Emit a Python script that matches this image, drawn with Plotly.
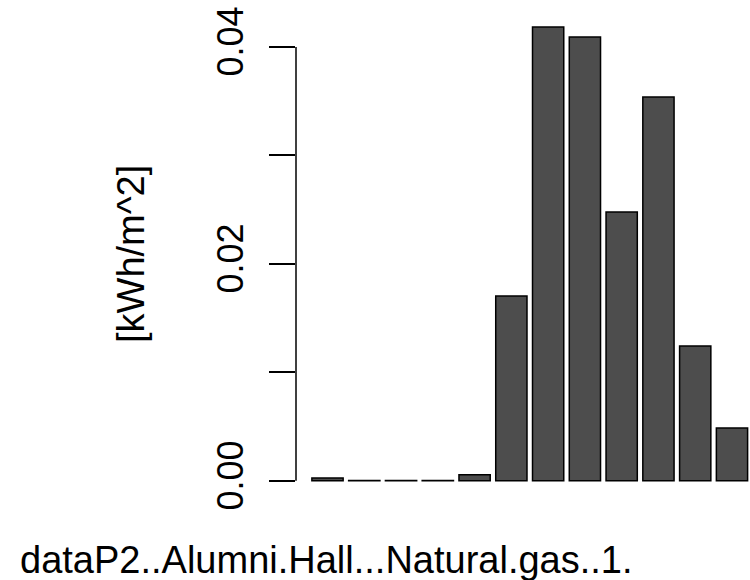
import plotly.graph_objects as go

categories = ["1", "2", "3", "4", "5", "6", "7", "8", "9", "10", "11", "12"]
values = [0.00025, 0.00003, 0.00003, 0.00003, 0.00055, 0.01705,
          0.04184, 0.04092, 0.02479, 0.03539, 0.01244, 0.00488]
ytick_vals = [0.00, 0.01, 0.02, 0.03, 0.04]
ytick_text = ["0.00", "", "0.02", "", "0.04"]
y_title = "[kWh/m^2]"
x_title = "dataP2..Alumni.Hall...Natural.gas..1."

W, H = 750, 580
left, bottom = 296, 97
plot_h = H - bottom
plot_w = W - left

FONT = "Liberation Sans, Arial, sans-serif"

fig = go.Figure()
fig.add_trace(go.Bar(
    x=categories, y=values,
    marker=dict(color="#4d4d4d", line=dict(color="black", width=1.5)),
    showlegend=False,
))

fig.update_layout(
    width=W, height=H,
    margin=dict(l=left, r=0, t=0, b=bottom, pad=0),
    paper_bgcolor="white", plot_bgcolor="white",
    bargap=0.15,
    font=dict(family=FONT, color="black"),
    xaxis=dict(type="category", range=[-0.857, 11.49], showticklabels=False,
               ticks="", showgrid=False, zeroline=False, showline=False),
    yaxis=dict(range=[-0.0002, 0.04433], tickvals=ytick_vals, ticktext=ytick_text,
               ticks="outside", ticklen=26, tickwidth=1.5, tickcolor="black",
               tickangle=-90, tickfont=dict(size=36, family=FONT, color="black"),
               ticklabelstandoff=12,
               showgrid=False, zeroline=False, showline=False),
)

# y axis line spanning the tick range only
fig.add_shape(type="line", xref="paper", yref="y", x0=0, x1=0,
              y0=ytick_vals[0], y1=ytick_vals[-1],
              line=dict(color="black", width=1.5))

fig.add_annotation(text=y_title, textangle=-90, xref="paper", yref="paper",
                   x=(131 - left) / plot_w, y=(plot_h - 254) / plot_h,
                   xanchor="center", yanchor="middle", showarrow=False,
                   font=dict(size=38, family=FONT, color="black"))
fig.add_annotation(text=x_title, xref="paper", yref="paper",
                   x=(326 - left) / plot_w, y=(plot_h - 560) / plot_h,
                   xanchor="center", yanchor="middle", showarrow=False,
                   font=dict(size=38, family=FONT, color="black"))

fig.write_html("out.html")
